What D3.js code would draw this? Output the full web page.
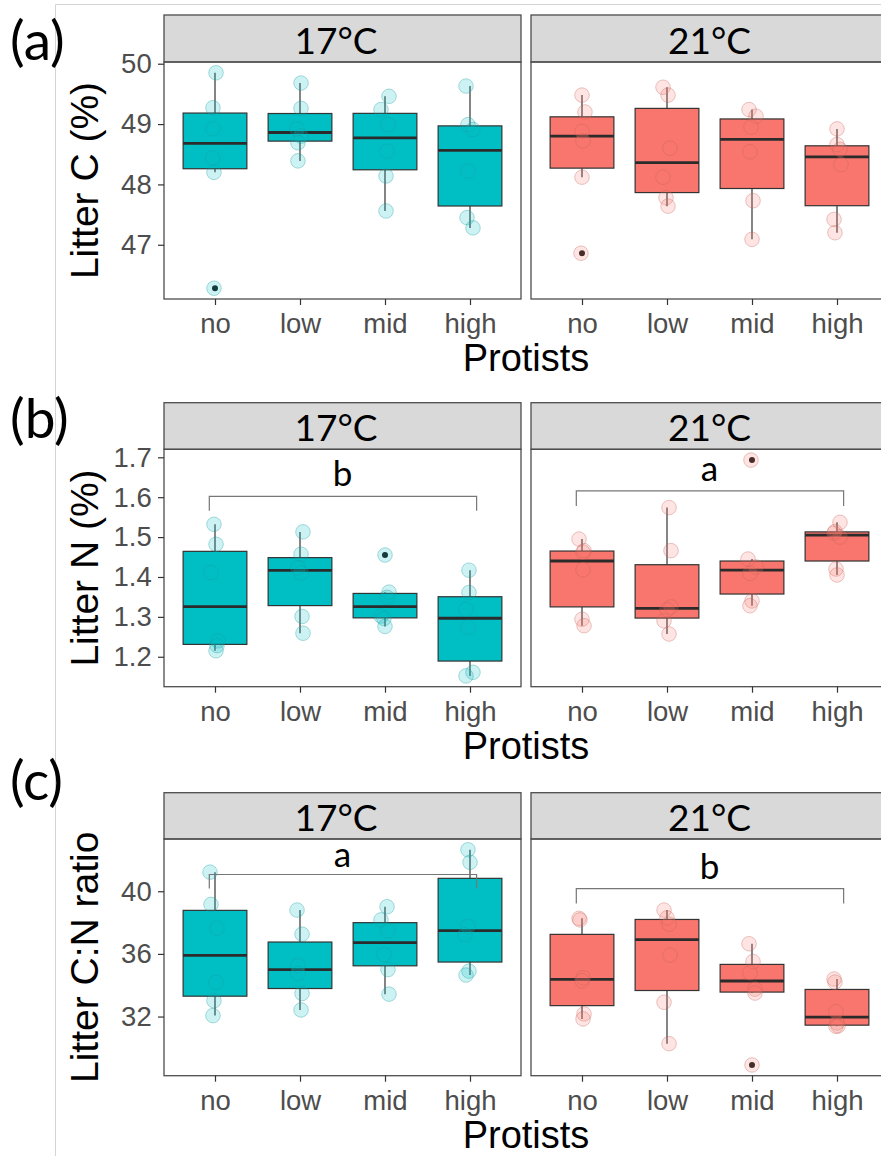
<!DOCTYPE html>
<html><head><meta charset="utf-8">
<script src="https://cdn.jsdelivr.net/npm/d3@7"></script>
<style>body{margin:0;background:#fff}svg{display:block}</style>
</head><body>
<script>
// ---------------- data ----------------
const protists = ["no", "low", "mid", "high"];
const temps = ["17°C", "21°C"];
const panelLetters = ["(a)", "(b)", "(c)"];
const yTitles = ["Litter C (%)", "Litter N (%)", "Litter C:N ratio"];

const ticksC = [47, 48, 49, 50];
const ticksN = [1.2, 1.3, 1.4, 1.5, 1.6, 1.7];
const ticksCN = [32, 36, 40];

// replicate values per protist level (no, low, mid, high)
const carbon17 = [[49.85,49.27,48.92,48.44,48.20,46.28],[49.68,49.26,48.92,48.80,48.69,48.39],[49.46,49.24,48.99,48.55,48.14,47.56],[49.63,48.99,48.91,48.22,47.45,47.28]];
const carbon21 = [[49.48,49.20,48.88,48.72,48.12,46.86],[49.61,49.48,48.60,48.12,47.78,47.64],[49.24,49.13,48.95,48.54,47.73,47.09],[48.92,48.66,48.58,48.33,47.42,47.20]];
const nitrogen17 = [[1.532,1.482,1.411,1.240,1.228,1.215],[1.513,1.457,1.423,1.410,1.301,1.259],[1.455,1.362,1.349,1.302,1.296,1.276],[1.417,1.361,1.319,1.274,1.161,1.152]];
const nitrogen21 = [[1.495,1.466,1.462,1.418,1.294,1.278],[1.574,1.466,1.325,1.318,1.290,1.257],[1.693,1.445,1.425,1.409,1.340,1.328],[1.537,1.514,1.510,1.500,1.420,1.405]];
const ratio17 = [[41.22,39.16,37.64,34.17,33.01,32.06],[38.80,37.26,35.25,34.75,33.47,32.42],[39.01,38.17,37.47,35.96,35.00,33.43],[42.65,41.85,37.75,37.22,34.90,34.65]];
const ratio21 = [[38.27,38.17,34.48,34.28,32.17,31.85],[38.80,38.30,37.90,35.92,32.91,30.27],[36.65,35.51,34.79,33.75,33.50,28.91],[34.40,34.20,32.32,31.60,31.40,31.38]];

// horizontal jitter of each point, as fraction of category spacing
const jitC17 = [[.012,-.024,-.024,-.024,-.012,-.012],[.012,.012,-.035,.012,-.024,-.024],[.047,-.047,.035,.024,.012,.012],[-.047,-.024,.035,-.024,-.035,.035]];
const jitC21 = [[0,.035,0,.012,0,-.012],[-.047,.012,.035,-.047,-.012,.012],[-.035,.047,-.012,-.024,.012,0],[0,0,.035,.047,-.035,-.024]];
const jitN17 = [[-.012,.012,-.047,.035,.024,.012],[.035,.012,-.024,.012,.024,.035],[0,.047,.024,-.047,-.012,0],[-.012,-.012,-.047,-.024,.035,-.047]];
const jitN21 = [[-.035,.024,.012,.012,0,.024],[.024,.047,.047,0,-.035,.024],[-.012,-.047,.047,-.024,0,-.024],[.035,-.024,-.035,.035,-.012,0]];
const jitR17 = [[-.059,-.047,.024,.012,-.012,-.024],[-.035,.024,-.024,-.024,.024,.012],[.024,-.047,.035,-.012,.035,.047],[-.024,0,-.024,-.059,-.012,-.047]];
const jitR21 = [[-.035,-.024,.012,0,.024,.012],[-.035,0,.024,.035,-.035,.024],[-.035,.012,-.024,.035,.035,0],[-.035,-.024,-.012,0,.012,-.012]];

// significance brackets
const bracketPanel = [1, 1, 2, 2];
const bracketTemp = [0, 1, 0, 1];
const bracketBarY = [1.602, 1.616, 41.07, 40.17];
const bracketTickY = [1.566, 1.578, 40.17, 39.22];
const bracketLabelY = [1.628, 1.641, 41.58, 40.80];
const bracketLabel = ["b", "a", "a", "b"];

// ---------------- drawing ----------------
const W = 881, H = 1156;
const colors = ["#00BFC4", "#F8766D"];
const sans = "'Liberation Sans', Arial, sans-serif";
const calib = "Lato, 'Open Sans', sans-serif";

const svg = d3.select("body").append("svg").attr("width", W).attr("height", H);

// frame of the pasted figure
svg.append("line").attr("x1", 55.5).attr("x2", 55.5).attr("y1", 4.5).attr("y2", H).attr("stroke", "#d4d4d4").attr("stroke-width", 1);
svg.append("line").attr("x1", 55.5).attr("x2", W).attr("y1", 4.5).attr("y2", 4.5).attr("stroke", "#d4d4d4").attr("stroke-width", 1);

const panelData = [[carbon17, carbon21], [nitrogen17, nitrogen21], [ratio17, ratio21]];
const panelJit = [[jitC17, jitC21], [jitN17, jitN21], [jitR17, jitR21]];
const panelTicks = [ticksC, ticksN, ticksCN];
const tickFmt = [d3.format("d"), d3.format(".1f"), d3.format("d")];

const layout = [
  {stripTop: 15, plotTop: 62, plotBottom: 299, letterY: 60},
  {stripTop: 402.7, plotTop: 449.3, plotBottom: 686.7, letterY: 438},
  {stripTop: 792.7, plotTop: 839, plotBottom: 1075.7, letterY: 800}
];
const facetX = [[164, 521], [531, 888]];

function boxStats(vals) {
  const s = vals.slice().sort(d3.ascending);
  const q1 = d3.quantile(s, 0.25), med = d3.quantile(s, 0.5), q3 = d3.quantile(s, 0.75);
  const iqr = q3 - q1, lo = q1 - 1.5 * iqr, hi = q3 + 1.5 * iqr;
  const inside = s.filter(v => v >= lo && v <= hi);
  return {q1, med, q3, wlo: d3.min(inside), whi: d3.max(inside), out: s.filter(v => v < lo || v > hi)};
}

layout.forEach((L, pi) => {
  const datasets = panelData[pi];
  const all = datasets.flat(2);
  const ext = d3.extent(all);
  const pad = (ext[1] - ext[0]) * 0.05;
  const y = d3.scaleLinear().domain([ext[0] - pad, ext[1] + pad]).range([L.plotBottom, L.plotTop]);

  // panel letter
  svg.append("text").attr("x", 10).attr("y", L.letterY).text(panelLetters[pi])
    .attr("font-family", calib).attr("font-size", 55).attr("fill", "#000");

  datasets.forEach((groups, ti) => {
    const [x0, x1] = facetX[ti];
    const x = d3.scalePoint().domain(protists).range([x0, x1]).padding(0.6);
    const step = x.step();
    const bw = step * 0.75;
    const g = svg.append("g");

    // strip
    g.append("rect").attr("x", x0).attr("y", L.stripTop).attr("width", x1 - x0).attr("height", L.plotTop - L.stripTop)
      .attr("fill", "#d9d9d9").attr("stroke", "#4d4d4d").attr("stroke-width", 1.3);
    g.append("text").attr("x", (x0 + x1) / 2 + (ti === 0 ? -6.5 : 0)).attr("y", L.plotTop - 8)
      .attr("text-anchor", "middle").attr("font-family", calib).attr("font-size", 37).attr("fill", "#000")
      .text(temps[ti]);

    // boxes
    groups.forEach((vals, ci) => {
      const cx = x(protists[ci]);
      const st = boxStats(vals);
      g.append("line").attr("x1", cx).attr("x2", cx).attr("y1", y(st.whi)).attr("y2", y(st.q3)).attr("stroke", "#333").attr("stroke-width", 1.2);
      g.append("line").attr("x1", cx).attr("x2", cx).attr("y1", y(st.q1)).attr("y2", y(st.wlo)).attr("stroke", "#333").attr("stroke-width", 1.2);
      g.append("rect").attr("x", cx - bw / 2).attr("y", y(st.q3)).attr("width", bw).attr("height", y(st.q1) - y(st.q3))
        .attr("fill", colors[ti]).attr("stroke", "#333").attr("stroke-width", 1.2);
      g.append("line").attr("x1", cx - bw / 2).attr("x2", cx + bw / 2).attr("y1", y(st.med)).attr("y2", y(st.med))
        .attr("stroke", "#2b2b2b").attr("stroke-width", 2.8);
      st.out.forEach(v => g.append("circle").attr("cx", cx).attr("cy", y(v)).attr("r", 3).attr("fill", "#1a1a1a"));
    });

    // jittered points
    groups.forEach((vals, ci) => {
      const cx = x(protists[ci]);
      const jit = panelJit[pi][ti][ci];
      vals.forEach((v, k) => {
        g.append("circle").attr("cx", cx + jit[k] * step).attr("cy", y(v)).attr("r", 7.3)
          .attr("fill", colors[ti]).attr("fill-opacity", 0.2)
          .attr("stroke", ti === 0 ? "#1a9a9d" : "#c0605a").attr("stroke-opacity", 0.35).attr("stroke-width", 1);
      });
    });

    // brackets
    bracketLabel.forEach((lab, bi) => {
      if (bracketPanel[bi] !== pi || bracketTemp[bi] !== ti) return;
      const bx0 = x("no") - 0.067 * step, bx1 = x("high") + 0.078 * step;
      g.append("path").attr("d", `M${bx0},${y(bracketTickY[bi])}V${y(bracketBarY[bi])}H${bx1}V${y(bracketTickY[bi])}`)
        .attr("fill", "none").attr("stroke", "#777").attr("stroke-width", 1.2);
      g.append("text").attr("x", (x("no") + x("high")) / 2).attr("y", y(bracketLabelY[bi]))
        .attr("text-anchor", "middle").attr("font-family", calib).attr("font-size", 35).attr("fill", "#000").text(lab);
    });

    // panel border
    g.append("rect").attr("x", x0).attr("y", L.plotTop).attr("width", x1 - x0).attr("height", L.plotBottom - L.plotTop)
      .attr("fill", "none").attr("stroke", "#4d4d4d").attr("stroke-width", 1.3);

    // x axis
    const xa = g.append("g").attr("transform", `translate(0,${L.plotBottom})`)
      .call(d3.axisBottom(x).tickSize(6).tickPadding(8.5));
    xa.select(".domain").remove();
    xa.selectAll("line").attr("stroke", "#333").attr("stroke-width", 1.2);
    xa.selectAll("text").attr("font-family", sans).attr("font-size", 27.5).attr("fill", "#4d4d4d");

    // y axis (left facet only)
    if (ti === 0) {
      const ya = g.append("g").attr("transform", `translate(${x0},0)`)
        .call(d3.axisLeft(y).tickValues(panelTicks[pi]).tickFormat(tickFmt[pi]).tickSize(6).tickPadding(6.3));
      ya.select(".domain").remove();
      ya.selectAll("line").attr("stroke", "#333").attr("stroke-width", 1.2);
      ya.selectAll("text").attr("font-family", sans).attr("font-size", 27.5).attr("fill", "#4d4d4d");
    }
  });

  // axis titles
  svg.append("text").attr("transform", `translate(98,${(L.plotTop + L.plotBottom) / 2}) rotate(-90)`)
    .attr("text-anchor", "middle").attr("font-family", sans).attr("font-size", 39).attr("fill", "#000")
    .text(yTitles[pi]);
  svg.append("text").attr("x", (facetX[0][0] + facetX[1][1]) / 2).attr("y", L.plotBottom + 72)
    .attr("text-anchor", "middle").attr("font-family", sans).attr("font-size", 38).attr("fill", "#000")
    .text("Protists");
});
</script>
</body></html>
